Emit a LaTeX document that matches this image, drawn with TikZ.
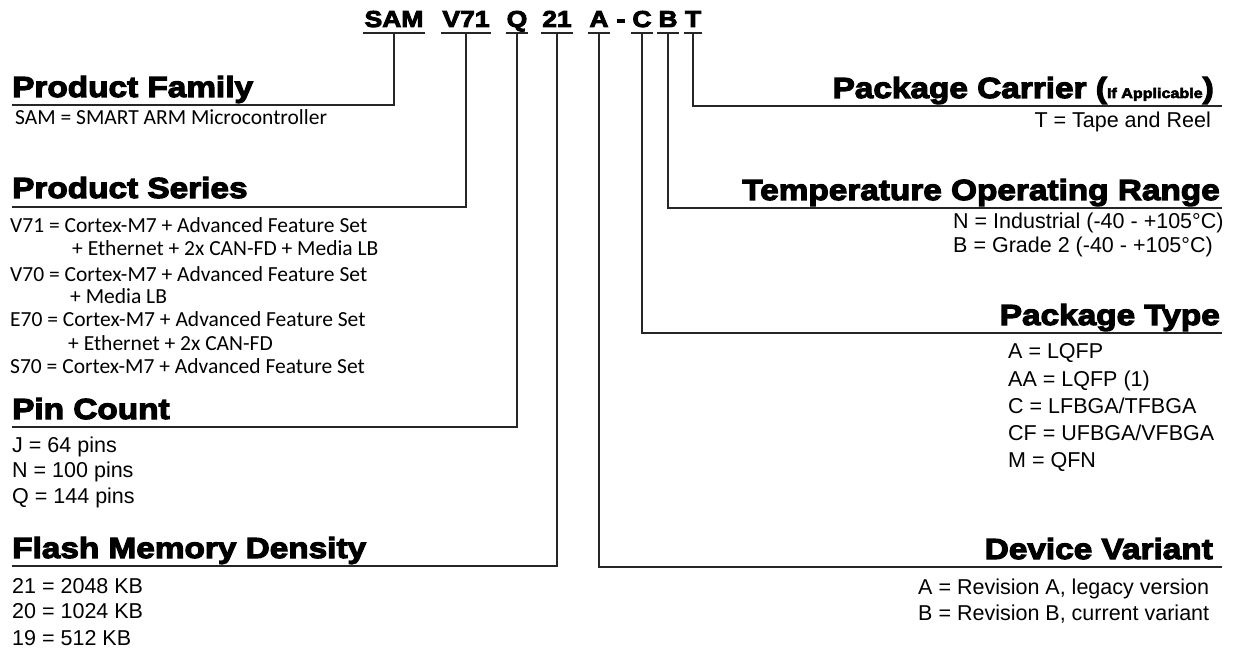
\documentclass[tikz,border=0pt]{standalone}
\usepackage{fontspec}
\setmainfont{Liberation Sans}
\newfontfamily\blackfont{Liberation Sans Bold}[FakeBold=4,FakeStretch=1.15]
\newfontfamily\califont{Carlito}
\usetikzlibrary{positioning}
\tikzset{
  code/.style = {font=\blackfont\fontsize{23}{23}\selectfont, inner xsep=1pt,
    inner ysep=0pt, anchor=base},% ordering code letters
  heading/.style = {font=\blackfont\fontsize{29}{29}\selectfont, inner sep=0pt},% field title
  desc/.style = {font=\fontsize{21.5}{25}\selectfont, inner sep=0pt, anchor=base west},
  cdesc/.style = {desc, font=\califont\fontsize{21.5}{22}\selectfont},
  link/.style = {line width=1.3pt, draw=black!85}
}

\begin{document}
\begin{tikzpicture}[x=1pt,y=-1pt]
\useasboundingbox (0,0) rectangle (1233,652);
% ordering code
\node [code] (sam) at (394,27) {SAM};
\node [code] (ser) at (466,27) {V71};
\node [code] (pin) at (517,27) {Q};
\node [code] (mem) at (557,27) {21};
\node [code] (var) at (599,27) {A};
\node [code] (dash) at (621,27) {-};
\node [code] (pkg) at (642,27) {C};
\node [code] (tmp) at (668,27) {B};
\node [code] (car) at (693,27) {T};
\foreach \c in {sam,ser,pin,mem,var,pkg,tmp,car}
  \draw [link] ([yshift=-6pt]\c.base west) -- ([yshift=-6pt]\c.base east);

% left fields
\node [heading, anchor=base west] (family) at (12,97) {Product Family};
\coordinate (familyEnd) at (12,105);
\node [cdesc] (familyTxt) at (15,125) {SAM = SMART ARM Microcontroller};

\node [heading, anchor=base west] (series) at (12,198) {Product Series};
\coordinate (seriesEnd) at (12,207);
\foreach \x/\y/\t in {10/233/{V71 = Cortex-M7 + Advanced Feature Set},
    72/255/{+ Ethernet + 2x CAN-FD + Media LB},
    10/281/{V70 = Cortex-M7 + Advanced Feature Set},
    70/303/{+ Media LB},
    10/326/{E70 = Cortex-M7 + Advanced Feature Set},
    68/350/{+ Ethernet + 2x CAN-FD},
    10/373/{S70 = Cortex-M7 + Advanced Feature Set}}
  \node [cdesc] at (\x,\y) {\t};

\node [heading, anchor=base west] (pins) at (12,419) {Pin Count};
\coordinate (pinsEnd) at (12,427);
\foreach \y/\t in {452/J = 64 pins, 477/N = 100 pins, 503/Q = 144 pins}
  \node [desc] at (12,\y) {\t};

\node [heading, anchor=base west] (flash) at (12,558) {Flash Memory Density};
\coordinate (flashEnd) at (12,566);
\foreach \y/\t in {593/21 = 2048 KB, 618/20 = 1024 KB, 645/19 = 512 KB}
  \node [desc] at (12,\y) {\t};

% right fields
\node [heading, anchor=base east] (carrier) at (1214,98)
  {Package Carrier ({\fontsize{14}{14}\selectfont If Applicable})};
\coordinate (carrierEnd) at (1222,106);
\node [desc, anchor=base east] at (1211,128) {T = Tape and Reel};

\node [heading, anchor=base east] (temp) at (1220,200) {Temperature Operating Range};
\coordinate (tempEnd) at (1222,208);
\foreach \y/\t in {229/N = Industrial (-40 - +105°C), 253/B = Grade 2 (-40 - +105°C)}
  \node [desc] at (953,\y) {\t};

\node [heading, anchor=base east] (ptype) at (1220,325) {Package Type};
\coordinate (ptypeEnd) at (1222,333);
\foreach \y/\t in {358/{A = LQFP}, 386/{AA = LQFP (1)}, 413/{C = LFBGA/TFBGA},
    440/{CF = UFBGA/VFBGA}, 467/{M = QFN}}
  \node [desc] at (1008,\y) {\t};

\node [heading, anchor=base east] (variant) at (1213,559) {Device Variant};
\coordinate (variantEnd) at (1222,567);
\foreach \y/\t in {594/{A = Revision A, legacy version}, 620/{B = Revision B, current variant}}
  \node [desc] at (918,\y) {\t};

% connectors
\draw [link] ([yshift=-6pt]sam.base) |- (familyEnd);
\draw [link] ([yshift=-6pt]ser.base) |- (seriesEnd);
\draw [link] ([yshift=-6pt]pin.base) |- (pinsEnd);
\draw [link] ([yshift=-6pt]mem.base) |- (flashEnd);
\draw [link] ([yshift=-6pt]var.base) |- (variantEnd);
\draw [link] ([yshift=-6pt]pkg.base) |- (ptypeEnd);
\draw [link] ([yshift=-6pt]tmp.base) |- (tempEnd);
\draw [link] ([yshift=-6pt]car.base) |- (carrierEnd);
\end{tikzpicture}
\end{document}
